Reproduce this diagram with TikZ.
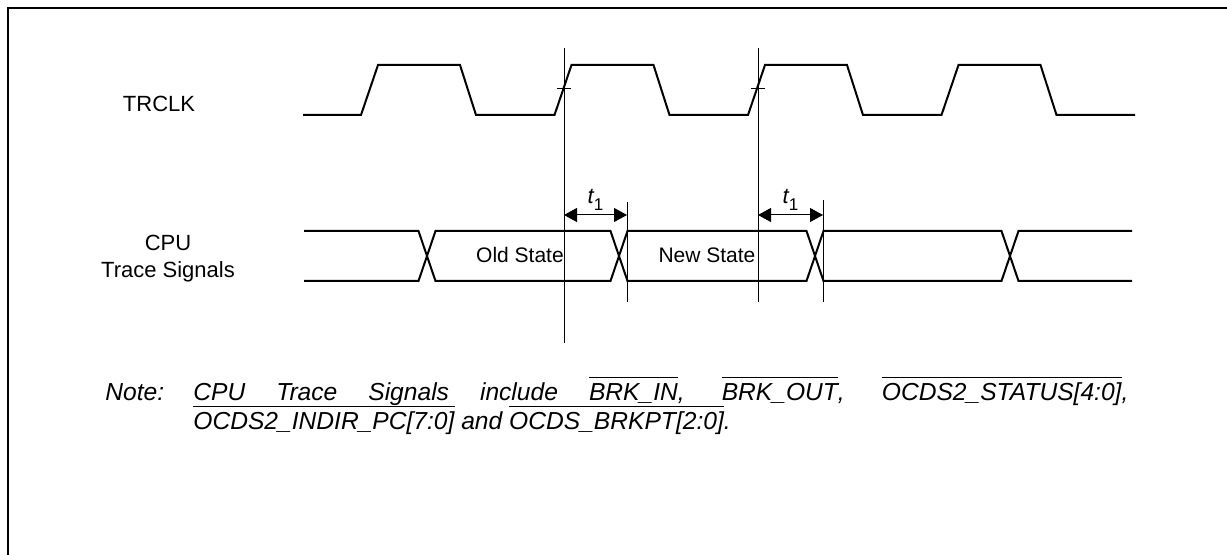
\documentclass[tikz,border=0pt]{standalone}
\usepackage{fontspec}
\setmainfont{Liberation Sans}
\usepackage{tikz}
\usetikzlibrary{arrows.meta,positioning}

\tolerance=10000
\hbadness=10000
\newcommand{\ovl}[1]{\setbox0\hbox{#1}\rlap{\smash{\rule[11.3pt]{\wd0}{0.9pt}}}\box0\relax}
\newcommand{\tone}{{\itshape t}\raisebox{-3.5pt}{\fontsize{8.5}{9}\selectfont 1}}

\begin{document}
\begin{tikzpicture}[x=0.5pt, y=-0.5pt,
    sig/.style={line width=1pt, line join=miter},
    guide/.style={line width=0.5pt},
    dim/.style={{Triangle[length=6.5pt,width=7pt]}-{Triangle[length=6.5pt,width=7pt]},
                line width=0.5pt},
    lbl/.style={font=\fontsize{11}{13.5}\selectfont, align=center, inner sep=0pt},
    state/.style={font=\fontsize{10.5}{12}\selectfont, inner sep=0pt},
    tlbl/.style={font=\fontsize{11}{13}\selectfont, inner sep=1pt},
    notetxt/.style={font=\fontsize{12.3}{14.5}\selectfont\itshape, inner sep=0pt}
  ]
    \useasboundingbox (0,0) rectangle (1227,555);
    % frame, only top and left edge show
    \draw[line width=1pt] (7.5,555) -- (7.5,8) -- (1227,8);

    % signal names
    \node[lbl] (trclk) at (159,104) {TRCLK};
    \node[lbl] (cpu) at (168,259) {CPU\\Trace Signals};

    % TRCLK
    \draw[sig] (303,115) \foreach \k in {0,...,3}{
        -- ({361+193.5*\k},115) -- ({378+193.5*\k},65)
        -- ({460+193.5*\k},65) -- ({476+193.5*\k},115)} -- (1135,115);

    % trace bus
    \draw[sig] (304,231) -- (418.5,231) -- (427,256) -- (418.5,281) -- (304,281);
    \foreach \a/\b in {427/619, 619/815, 815/1010}
      \draw[sig] (\a,256) -- ({\a+8.5},231) -- ({\b-8.5},231) -- (\b,256)
        -- ({\b-8.5},281) -- ({\a+8.5},281) -- cycle;
    \draw[sig] (1132,231) -- (1018.5,231) -- (1010,256) -- (1018.5,281) -- (1132,281);

    \node[state] (old) at (520,255) {Old State};
    \node[state] (new) at (707,255) {New State};

    % clock edges and t1
    \foreach \x/\lo in {564/343, 758/302} {
      \draw[guide] (\x,48) -- (\x,\lo);
      \draw[guide] ({\x-7},89) -- ({\x+7},89);
    }
    \foreach \x/\hi in {627/202, 823/200}
      \draw[guide] (\x,\hi) -- (\x,302);

    \coordinate (e1) at (564,215);
    \coordinate (d1) at (627,215);
    \coordinate (e2) at (758,215);
    \coordinate (d2) at (823,215);
    \draw[dim] (e1) -- (d1) node[midway, above, tlbl, yshift=1pt] (ta) {\tone};
    \draw[dim] (e2) -- (d2) node[midway, above, tlbl, yshift=1pt] (tb) {\tone};

    % note
    \node[notetxt, anchor=base west] (notehead) at (105,401) {Note:};
    \node[notetxt, anchor=base west, text width=467.5pt, align=justify] (notebody) at (193,401)
      {CPU Trace Signals include \ovl{BRK\_IN}, \ovl{BRK\_OUT}, \ovl{OCDS2\_STATUS[4:0]},
       \ovl{OCDS2\_INDIR\_PC[7:0]} and \ovl{OCDS\_BRKPT[2:0]}.};
\end{tikzpicture}
\end{document}
